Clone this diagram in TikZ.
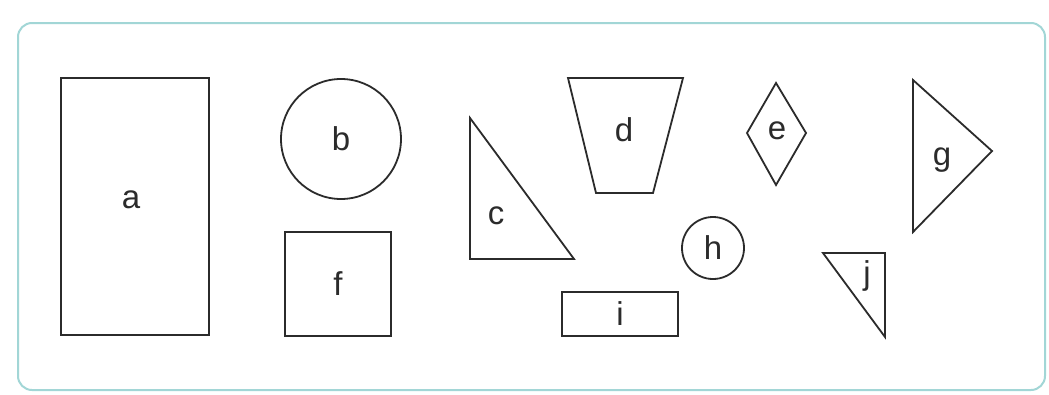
\documentclass[tikz,border=0pt]{standalone}
\usepackage{fontspec}
\setmainfont{Liberation Sans}
\usepackage{tikz}
\usetikzlibrary{positioning,calc}
\definecolor{framec}{HTML}{A2D6D6}
\definecolor{inkx}{HTML}{2B2B2B}

\begin{document}
\begin{tikzpicture}[x=1pt, y=-1pt,
  shp/.style={draw=inkx, line width=1.8pt, line join=miter},
  lbl/.style={text=inkx, font=\fontsize{33}{33}\selectfont, inner sep=0pt},
  boxshp/.style={shp, rectangle, inner sep=0pt, text=inkx, font=\fontsize{33}{33}\selectfont},
  rndshp/.style={shp, circle, inner sep=0pt, text=inkx, font=\fontsize{33}{33}\selectfont}]

  \useasboundingbox (0,0) rectangle (1049,394);
  % outer frame
  \draw[framec, line width=2pt, rounded corners=14pt, fill=white] (18,23) rectangle (1045,390);

  % boxes and circles
  \node[boxshp, minimum width=148pt, minimum height=257pt] (a) at (135,206.5) {};
  \node[lbl] (alab) at (131,200) {a};
  \node[rndshp, minimum size=120pt] (b) at (341,139) {b};
  \node[boxshp, minimum width=106pt, minimum height=104pt] (f) at (338,284) {f};
  \node[rndshp, minimum size=62pt] (h) at (713,248) {h};
  \node[boxshp, minimum width=116pt, minimum height=44pt] (i) at (620,314) {i};

  % polygons
  \draw[shp] (470,118) -- (470,259) -- (574,259) -- cycle;
  \node[lbl] (c) at (496,216) {c};

  \draw[shp] (568,78) -- (683,78) -- (653,193) -- (596,193) -- cycle;
  \node[lbl] (d) at (624,130) {d};

  \draw[shp] (776,83) -- (806,133) -- (776,185) -- (747,133) -- cycle;
  \node[lbl] (e) at (777,131) {e};

  \draw[shp] (913,80) -- (992,151) -- (913,232) -- cycle;
  \node[lbl] (g) at (942,160) {g};

  \draw[shp] (823,253) -- (885,253) -- (885,337) -- cycle;
  \node[lbl] (j) at (867,276) {j};
\end{tikzpicture}
\end{document}
